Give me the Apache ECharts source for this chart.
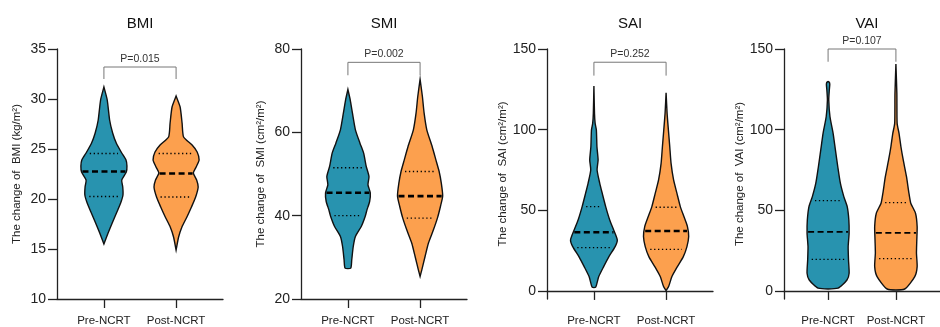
<!DOCTYPE html>
<html>
<head>
<meta charset="utf-8">
<script src="https://cdn.jsdelivr.net/npm/echarts@6.0.0/dist/echarts.min.js"></script>
<style>
  html, body { margin: 0; padding: 0; background: #fff; }
  #chart { width: 940px; height: 327px; }
</style>
</head>
<body>
<div id="chart"></div>
<script>
// groups and labels
const groups = ['Pre-NCRT', 'Post-NCRT'];
const titles = ['BMI', 'SMI', 'SAI', 'VAI'];
const yNames = [
  'The change of  BMI (kg/m²)',
  'The change of  SMI (cm²/m²)',
  'The change of  SAI (cm²/m²)',
  'The change of  VAI (cm²/m²)'
];
const pValues = ['P=0.015', 'P=0.002', 'P=0.252', 'P=0.107'];
// bracket [top, leg end] in y units
const brackets = [[33.2, 32.0], [76.8, 73.7], [141.8, 133.5], [150, 142.1]];
const bigTicks = [0, 50, 100, 150];

// violin outlines: [y, half width in x units], top to bottom
const bmiPre = [[31.2, 0], [29.9, .046], [27.9, .079], [26.6, .121], [25.6, .171], [24.6, .247], [23.9, .306],
  [23.3, .319], [22.7, .31], [21.9, .247], [21.2, .261], [20.4, .264], [19.6, .232], [18.6, .174], [17.6, .115],
  [16.6, .058], [15.5, 0]];
const bmiPost = [[30.3, 0], [29.2, .056], [27.6, .083], [26.2, .104], [25.4, .222], [24.7, .292], [23.9, .319],
  [23.2, .278], [22.6, .239], [21.9, .285], [21.2, .306], [20.2, .271], [19.2, .213], [18.2, .15], [17.2, .081],
  [16.2, .035], [14.9, 0]];
const smiPre = [[70.3, 0], [67.8, .032], [64.6, .063], [60.6, .104], [57.4, .167], [55.0, .218], [51.8, .254],
  [49.4, .292], [47.4, .278], [45.5, .31], [43.4, .301], [41.4, .264], [39.8, .239], [37.4, .185], [35.0, .104],
  [32.6, .074], [29.4, .053], [27.4, .039]];
const smiPost = [[72.7, 0], [68.6, .032], [64.6, .056], [60.6, .093], [56.6, .167], [53.4, .219], [50.6, .264],
  [47.8, .294], [44.7, .313], [42.2, .282], [39.4, .24], [36.6, .185], [33.4, .115], [30.2, .069], [27.0, .024],
  [25.4, 0]];
const saiPre = [[127.1, 0], [110.1, .008], [103.9, .017], [99.8, .034], [89.4, .042], [81.2, .058], [75.0, .044],
  [66.7, .081], [60.6, .115], [52.3, .163], [44.0, .219], [37.8, .274], [31.6, .324], [27.5, .294], [21.3, .208],
  [15.1, .135], [8.9, .067], [2.3, .024]];
const saiPost = [[122.9, 0], [110.1, .014], [99.8, .032], [89.4, .051], [79.1, .069], [68.8, .104], [60.6, .15],
  [52.3, .197], [46.1, .247], [39.9, .296], [33.7, .313], [27.5, .289], [21.3, .239], [15.1, .157], [8.9, .081],
  [2.7, .035], [0.2, 0]];
const vaiPre = [[129.6, .011], [128.3, .025], [124.6, .018], [118.4, .01], [108.0, .028], [97.7, .074], [87.4, .108],
  [77.0, .143], [66.8, .181], [58.5, .232], [52.3, .282], [44.0, .306], [35.8, .31], [27.5, .296], [19.2, .301],
  [11.0, .31], [6.8, .278], [1.7, .146]];
const vaiPost = [[140.7, 0], [122.5, .014], [103.9, .018], [97.7, .046], [89.4, .074], [81.2, .108], [70.8, .156],
  [60.6, .192], [54.4, .219], [48.2, .289], [39.9, .313], [31.6, .308], [23.4, .303], [15.1, .313], [8.9, .278],
  [1.2, .129]];

// quartiles [Q1, median, Q3]
const bmiStats = [[20.25, 22.75, 24.55], [20.2, 22.55, 24.55]];
const smiStats = [[40.0, 45.5, 51.5], [39.4, 44.7, 50.6]];
const saiStats = [[26.9, 36.4, 52.3], [25.8, 37.2, 51.9]];
const vaiStats = [[19.6, 36.6, 56.0], [20.0, 36.0, 54.7]];

const profiles = [[bmiPre, bmiPost], [smiPre, smiPost], [saiPre, saiPost], [vaiPre, vaiPost]];
const stats = [bmiStats, smiStats, saiStats, vaiStats];

const colors = ['#2893AF', '#FCA04E'];
const font = '"Liberation Sans", Arial, sans-serif';
const lefts = [57, 301, 547, 784];

function widthAt(prof, v) {
  for (let i = 0; i < prof.length - 1; i++) {
    const a = prof[i], b = prof[i + 1];
    if (v <= a[0] && v >= b[0]) {
      const t = (a[0] - v) / (a[0] - b[0]);
      return a[1] + t * (b[1] - a[1]);
    }
  }
  return 0;
}

function violinItem(p, medWidth) {
  return function (params, api) {
    const c = api.value(0), k = api.value(1);
    const prof = profiles[p][k];
    const pts = [];
    prof.forEach(d => pts.push(api.coord([c + d[1], d[0]])));
    for (let i = prof.length - 1; i >= 0; i--) pts.push(api.coord([c - prof[i][1], prof[i][0]]));
    const children = [{
      type: 'polygon',
      shape: { points: pts, smooth: 0.2 },
      style: { fill: colors[k], stroke: '#111', lineWidth: 1.4 }
    }];
    stats[p][k].forEach((v, j) => {
      const hw = widthAt(prof, v);
      const l = api.coord([c - hw, v]), r = api.coord([c + hw, v]);
      const med = j === 1;
      const inset = med ? 1 : 4;
      children.push({
        type: 'line',
        shape: { x1: l[0] + inset, y1: l[1], x2: r[0] - inset, y2: r[1] },
        style: { stroke: '#000', lineWidth: med ? medWidth : 1.3, lineDash: med ? [6, 3.5] : [1.3, 2.6] }
      });
    });
    return { type: 'group', children };
  };
}

function bracketItem(p) {
  return function (params, api) {
    const top = api.value(2), leg = api.value(3);
    const a = api.coord([api.value(0), leg]), b = api.coord([api.value(0), top]);
    const c = api.coord([api.value(1), top]), d = api.coord([api.value(1), leg]);
    return {
      type: 'group',
      children: [
        { type: 'polyline', shape: { points: [a, b, c, d] }, style: { stroke: '#777', lineWidth: 1, fill: null } },
        {
          type: 'text', x: (b[0] + c[0]) / 2, y: b[1] - 8,
          style: { text: pValues[p], fill: '#333', font: '10.5px ' + font, align: 'center', verticalAlign: 'middle' }
        }
      ]
    };
  };
}

const axisLineStyle = { color: '#222', width: 1.3 };

const grid = [], xAxis = [], yAxis = [], title = [], series = [];
for (let p = 0; p < 4; p++) {
  grid.push({ left: lefts[p], top: 49, width: 166, height: 250 });
  title.push({
    text: titles[p], left: lefts[p] + 83, top: 16, padding: 0, textAlign: 'center',
    textStyle: { fontFamily: font, fontSize: 15, fontWeight: 'normal', color: '#111' }
  });
  xAxis.push({
    type: 'value', gridIndex: p, min: 0.35, max: 2.65,
    axisLine: { lineStyle: axisLineStyle },
    axisTick: { length: 9, lineStyle: axisLineStyle, customValues: [1, 2] },
    axisLabel: {
      customValues: [1, 2], margin: 16, color: '#222', fontFamily: font, fontSize: 11.5,
      formatter: v => groups[Math.round(v) - 1]
    },
    splitLine: { show: false }
  });
  const y = {
    type: 'value', gridIndex: p,
    name: yNames[p], nameLocation: 'middle', nameGap: p < 2 ? 34 : 38,
    nameTextStyle: { fontFamily: font, fontSize: 11.5, color: '#222' },
    axisLine: { show: true, lineStyle: axisLineStyle },
    axisTick: { show: true, length: 9, lineStyle: axisLineStyle },
    axisLabel: { margin: 11, color: '#222', fontFamily: font, fontSize: 14 },
    splitLine: { show: false }
  };
  if (p === 0) Object.assign(y, { min: 10, max: 35, interval: 5 });
  if (p === 1) Object.assign(y, { min: 20, max: 80, interval: 20 });
  if (p >= 2) {
    Object.assign(y, { min: -5, max: 150 });
    y.axisTick.customValues = bigTicks;
    y.axisLabel.customValues = bigTicks;
  }
  yAxis.push(y);
  series.push({
    type: 'custom', xAxisIndex: p, yAxisIndex: p, silent: true, clip: false,
    renderItem: violinItem(p, p === 3 ? 1.8 : 2.6),
    data: [[1, 0], [2, 1]]
  });
  series.push({
    type: 'custom', xAxisIndex: p, yAxisIndex: p, silent: true, clip: false,
    renderItem: bracketItem(p),
    data: [[1, 2, brackets[p][0], brackets[p][1]]]
  });
}

const chart = echarts.init(document.getElementById('chart'));
chart.setOption({
  backgroundColor: '#fff',
  animation: false,
  title, grid, xAxis, yAxis, series
});
</script>
</body>
</html>
